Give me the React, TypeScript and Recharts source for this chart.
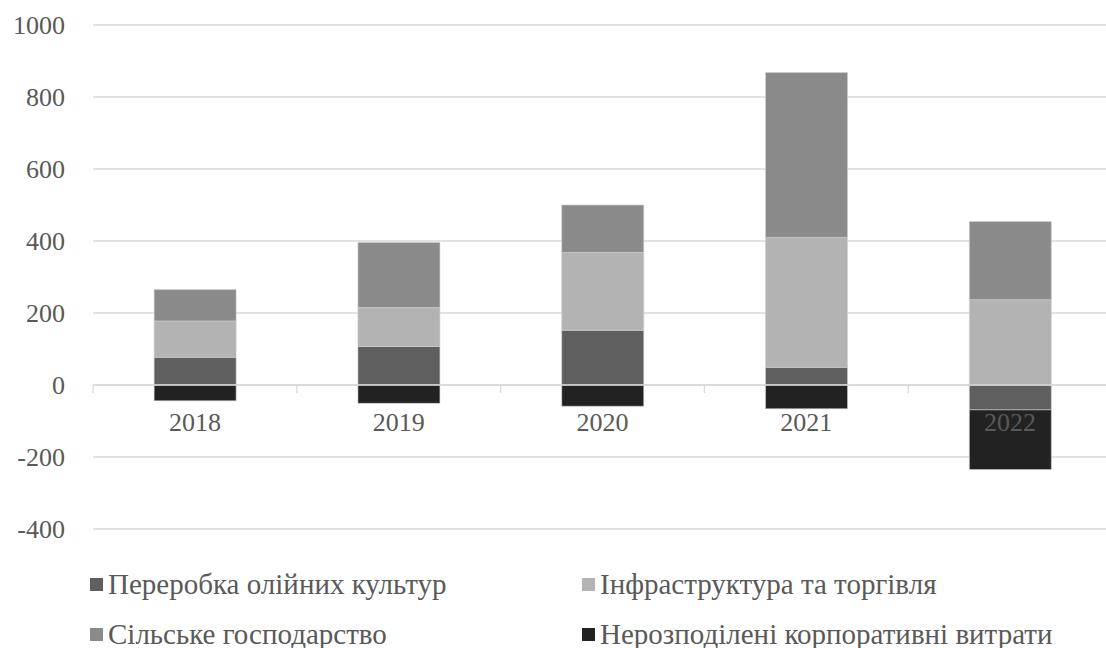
import { Bar, BarChart, CartesianGrid, ReferenceLine, XAxis, YAxis } from 'recharts';

const years = ['2018', '2019', '2020', '2021', '2022'];
const pererobka = [77, 107, 152, 49, -69];
const infrastruktura = [101, 108, 216, 361, 237];
const silske = [87, 181, 132, 458, 217];
const korporatyvni = [-44, -51, -59, -66, -166];
const yTicks = [-400, -200, 0, 200, 400, 600, 800, 1000];

const series = [
  { key: 'pererobka', name: 'Переробка олійних культур', color: '#5f5f5f' },
  { key: 'infra', name: 'Інфраструктура та торгівля', color: '#b3b3b3' },
  { key: 'silske', name: 'Сільське господарство', color: '#8a8a8a' },
  { key: 'korp', name: 'Нерозподілені корпоративні витрати', color: '#222222' },
];

const data = years.map((year, i) => ({
  year,
  pererobka: pererobka[i],
  infra: infrastruktura[i],
  silske: silske[i],
  korp: korporatyvni[i],
}));

const FONT = 'Liberation Serif, Tinos, DejaVu Serif, Noto Serif, serif';
const TEXT = '#595959';
const GRID = '#d9d9d9';
const W = 1114;
const H = 648;
const MARGIN = { top: 25, right: 2, left: 0, bottom: 89 };
const Y_AXIS_W = 93;
const X_AXIS_H = 30;
const Y_MIN = -400;
const Y_MAX = 1000;
const plotH = H - MARGIN.top - MARGIN.bottom - X_AXIS_H;
const plotW = W - MARGIN.left - MARGIN.right - Y_AXIS_W;
const zeroY = MARGIN.top + (plotH * Y_MAX) / (Y_MAX - Y_MIN);
const halfBand = plotW / years.length / 2;

// Excel-style category labels sitting under the zero line, with boundary tick marks
const YearTick = (props: any) => {
  const { x, payload, index } = props;
  const half = payload && typeof payload.offset === 'number' && payload.offset > 0 ? payload.offset : halfBand;
  const last = index === years.length - 1;
  return (
    <g>
      <line x1={x - half} x2={x - half} y1={zeroY} y2={zeroY + 8} stroke={GRID} strokeWidth={1.3} />
      {last && <line x1={x + half} x2={x + half} y1={zeroY} y2={zeroY + 8} stroke={GRID} strokeWidth={1.3} />}
      <text x={x} y={zeroY + 46} textAnchor="middle" fill={TEXT} fontSize={26} style={{ fontFamily: FONT }}>
        {payload.value}
      </text>
    </g>
  );
};

export default function App() {
  return (
    <div style={{ position: 'absolute', left: 0, top: 0, width: 1106, height: 648, overflow: 'hidden', background: '#fff', fontFamily: FONT }}>
      <BarChart width={W} height={H} data={data} margin={MARGIN} stackOffset="sign" barCategoryGap="30%">
        <CartesianGrid vertical={false} stroke={GRID} strokeWidth={1.3} />
        <XAxis
          dataKey="year"
          height={X_AXIS_H}
          axisLine={false}
          tickLine={false}
          interval={0}
          tick={<YearTick />}
        />
        <YAxis
          domain={[Y_MIN, Y_MAX]}
          ticks={yTicks}
          width={Y_AXIS_W}
          axisLine={false}
          tickLine={false}
          tickSize={0}
          tickMargin={28}
          tick={{ fill: TEXT, fontSize: 26, style: { fontFamily: FONT } }}
        />
        <ReferenceLine y={0} stroke={GRID} strokeWidth={1.3} />
        {series.map((s) => (
          <Bar
            key={s.key}
            dataKey={s.key}
            name={s.name}
            stackId="a"
            fill={s.color}
            stroke="#d0d0d0"
            strokeWidth={0.6}
            isAnimationActive={false}
          />
        ))}
      </BarChart>
      <div
        style={{
          position: 'absolute',
          left: 90,
          top: 559,
          display: 'grid',
          gridTemplateColumns: '492px 492px',
          gridAutoRows: '50px',
          fontSize: 29,
          color: TEXT,
        }}
      >
        {series.map((s) => (
          <div key={s.key} style={{ display: 'flex', alignItems: 'center', whiteSpace: 'nowrap' }}>
            <span style={{ width: 13, height: 13, background: s.color, marginRight: 5, display: 'inline-block', flex: 'none' }} />
            <span>{s.name}</span>
          </div>
        ))}
      </div>
    </div>
  );
}
